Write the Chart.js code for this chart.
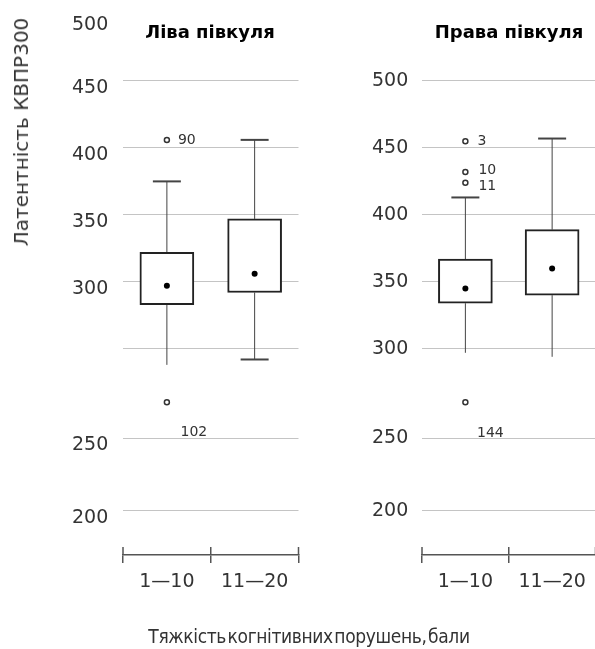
<!DOCTYPE html>
<html>
<head>
<meta charset="utf-8">
<script src="https://cdn.jsdelivr.net/npm/chart.js@4/dist/chart.umd.min.js"></script>
<style>
  body { margin: 0; background: #fff; width: 595px; height: 649px; position: relative; overflow: hidden;
         font-family: "DejaVu Sans", sans-serif; color: #333; }
  canvas { position: absolute; top: 0; }
  #leftChart { left: 0; }
  #rightChart { left: 300px; }
  .label { position: absolute; white-space: nowrap; transform: translate(-50%, -50%); }
  .panel-title { font-weight: bold; font-size: 18px; color: #000; top: 31px; }
  #yTitle { left: 21px; top: 132px; font-size: 20px; transform: translate(-50%, -50%) rotate(-90deg); }
  #xTitle { left: 309px; top: 636px; font-size: 19px; letter-spacing: -0.4px; word-spacing: -4px;
            transform: translate(-50%, -50%) scaleX(0.9); }
</style>
</head>
<body>
<canvas id="leftChart" width="304" height="649"></canvas>
<canvas id="rightChart" width="301" height="649"></canvas>
<div class="label panel-title" style="left:210px">Ліва півкуля</div>
<div class="label panel-title" style="left:509px">Права півкуля</div>
<div class="label" id="yTitle">Латентність КВПР300</div>
<div class="label" id="xTitle">Тяжкість когнітивних порушень, бали</div>
<script>
/*-------------------------
~~~~~~~~~~~Data~~~~~~~~~~~~
-------------------------*/
const categories = ['1—10', '11—20'];

// Ліва півкуля
const leftQ1 = [283, 292];
const leftQ3 = [322, 347];
const leftMean = [297, 306];
const leftLow = [238, 242];
const leftHigh = [375, 406];
const leftOutlierCat = [0, 0];
const leftOutlierValue = [406, 210];
const leftOutlierLabel = ['90', '102'];
const leftTickValues = [497, 450, 400, 350, 300, 250, 183, 129];
const leftTickLabels = ['500', '450', '400', '350', '300', '', '250', '200'];

// Права півкуля
const rightQ1 = [334, 340];
const rightQ3 = [367, 389];
const rightMean = [345, 360];
const rightLow = [297, 294];
const rightHigh = [413, 457];
const rightOutlierCat = [0, 0, 0, 0];
const rightOutlierValue = [455, 432, 424, 260];
const rightOutlierLabel = ['3', '10', '11', '144'];
const rightTickValues = [500, 450, 400, 350, 300, 233, 179];
const rightTickLabels = ['500', '450', '400', '350', '300', '250', '200'];

/*-------------------------
~~~~~~~~~~Styles~~~~~~~~~~~
-------------------------*/
const leftLowerCap = [false, true];
const rightLowerCap = [false, false];
// [dx, dy, align] of outlier number relative to its circle
const leftLabelPos = [[11, 0, 'left'], [27, 30, 'center']];
const rightLabelPos = [[12, 0, 'left'], [13, -2, 'left'], [13, 4, 'left'], [25, 31, 'center']];

const tickFont = { family: 'DejaVu Sans', size: 19 };
const gridColor = '#c4c4c4';
const axisColor = '#555';

/*-------------------------
~~~~~~~~~~Plugin~~~~~~~~~~~
-------------------------*/
function line(ctx, x1, y1, x2, y2) {
    ctx.beginPath();
    ctx.moveTo(x1, y1);
    ctx.lineTo(x2, y2);
    ctx.stroke();
}

const boxExtras = {
    id: 'boxExtras',
    beforeDatasetsDraw(chart, args, opts) {
        const ctx = chart.ctx;
        const x = chart.scales.x;
        const y = chart.scales.y;
        ctx.save();
        ctx.strokeStyle = '#444';
        ctx.lineWidth = 1;
        opts.low.forEach((low, i) => {
            const px = x.getPixelForValue(i);
            const yLow = y.getPixelForValue(low);
            const yHigh = y.getPixelForValue(opts.high[i]);
            line(ctx, px, y.getPixelForValue(opts.q1[i]), px, yLow);
            line(ctx, px, y.getPixelForValue(opts.q3[i]), px, yHigh);
            ctx.lineWidth = 2;
            line(ctx, px - 14, yHigh, px + 14, yHigh);
            if (opts.lowerCap[i]) line(ctx, px - 14, yLow, px + 14, yLow);
            ctx.lineWidth = 1;
        });
        ctx.restore();
    },
    afterDatasetsDraw(chart, args, opts) {
        const ctx = chart.ctx;
        const x = chart.scales.x;
        const y = chart.scales.y;
        const area = chart.chartArea;
        ctx.save();
        // outlier numbers
        ctx.fillStyle = '#333';
        ctx.font = '14px "DejaVu Sans"';
        ctx.textBaseline = 'middle';
        opts.outlierValue.forEach((v, i) => {
            const pos = opts.labelPos[i];
            ctx.textAlign = pos[2];
            ctx.fillText(opts.outlierLabel[i],
                x.getPixelForValue(opts.outlierCat[i]) + pos[0],
                y.getPixelForValue(v) + pos[1]);
        });
        // upper half of the axis tick marks
        ctx.strokeStyle = axisColor;
        ctx.lineWidth = 1.5;
        const mid = (x.getPixelForValue(0) + x.getPixelForValue(1)) / 2;
        [area.left, mid, area.right].forEach(px => line(ctx, px, area.bottom - 8, px, area.bottom));
        ctx.restore();
    }
};

/*-------------------------
~~~~~~~~~~Charts~~~~~~~~~~~
-------------------------*/
function makeChart(canvasId, d) {
    return new Chart(document.getElementById(canvasId), {
        type: 'bar',
        data: {
            labels: categories,
            datasets: [
                {
                    type: 'line',
                    data: d.mean,
                    showLine: false,
                    pointRadius: 3,
                    pointBorderWidth: 0,
                    pointBackgroundColor: '#000',
                    order: 0
                },
                {
                    type: 'line',
                    data: d.outlierValue.map((v, i) => ({ x: categories[d.outlierCat[i]], y: v })),
                    showLine: false,
                    pointRadius: 2.5,
                    pointBorderWidth: 1.5,
                    pointBorderColor: '#333',
                    pointBackgroundColor: '#fff',
                    order: 0
                },
                {
                    data: d.q1.map((v, i) => [v, d.q3[i]]),
                    backgroundColor: '#fff',
                    borderColor: '#222',
                    borderWidth: 2,
                    borderSkipped: false,
                    barThickness: 54,
                    order: 1
                }
            ]
        },
        options: {
            responsive: false,
            animation: false,
            layout: { padding: { top: 14, right: 0, left: 72, bottom: 0 } },
            plugins: {
                legend: { display: false },
                tooltip: { enabled: false },
                boxExtras: {
                    q1: d.q1, q3: d.q3, low: d.low, high: d.high, lowerCap: d.lowerCap,
                    outlierCat: d.outlierCat, outlierValue: d.outlierValue,
                    outlierLabel: d.outlierLabel, labelPos: d.labelPos
                }
            },
            scales: {
                x: {
                    offset: true,
                    grid: { offset: true, drawOnChartArea: false, tickLength: 8, color: axisColor, lineWidth: 1.5 },
                    border: { display: true, color: axisColor, width: 1.5 },
                    ticks: { font: tickFont, color: '#333', padding: 8 },
                    afterFit: s => { s.height = 94; }
                },
                y: {
                    min: d.min,
                    max: d.max,
                    afterBuildTicks: s => { s.ticks = d.tickValues.map(v => ({ value: v })); },
                    grid: {
                        drawTicks: false,
                        lineWidth: 1,
                        color: c => (c.tick && c.tick.value === d.hiddenGrid) ? 'rgba(0,0,0,0)' : gridColor
                    },
                    border: { display: false },
                    ticks: {
                        autoSkip: false,
                        font: tickFont,
                        color: '#333',
                        padding: 0,
                        crossAlign: 'far',
                        labelOffset: d.labelOffset,
                        callback: (v, i) => d.tickLabels[i]
                    },
                    afterFit: s => { s.width = d.axisWidth; }
                }
            }
        },
        plugins: [boxExtras]
    });
}

makeChart('leftChart', {
    q1: leftQ1, q3: leftQ3, mean: leftMean, low: leftLow, high: leftHigh,
    lowerCap: leftLowerCap, outlierCat: leftOutlierCat, outlierValue: leftOutlierValue,
    outlierLabel: leftOutlierLabel, labelPos: leftLabelPos,
    tickValues: leftTickValues, tickLabels: leftTickLabels,
    min: 96, max: 500, hiddenGrid: 497, labelOffset: 7, axisWidth: 51
});

makeChart('rightChart', {
    q1: rightQ1, q3: rightQ3, mean: rightMean, low: rightLow, high: rightHigh,
    lowerCap: rightLowerCap, outlierCat: rightOutlierCat, outlierValue: rightOutlierValue,
    outlierLabel: rightOutlierLabel, labelPos: rightLabelPos,
    tickValues: rightTickValues, tickLabels: rightTickLabels,
    min: 146, max: 550, hiddenGrid: null, labelOffset: 0, axisWidth: 50
});
</script>
</body>
</html>
